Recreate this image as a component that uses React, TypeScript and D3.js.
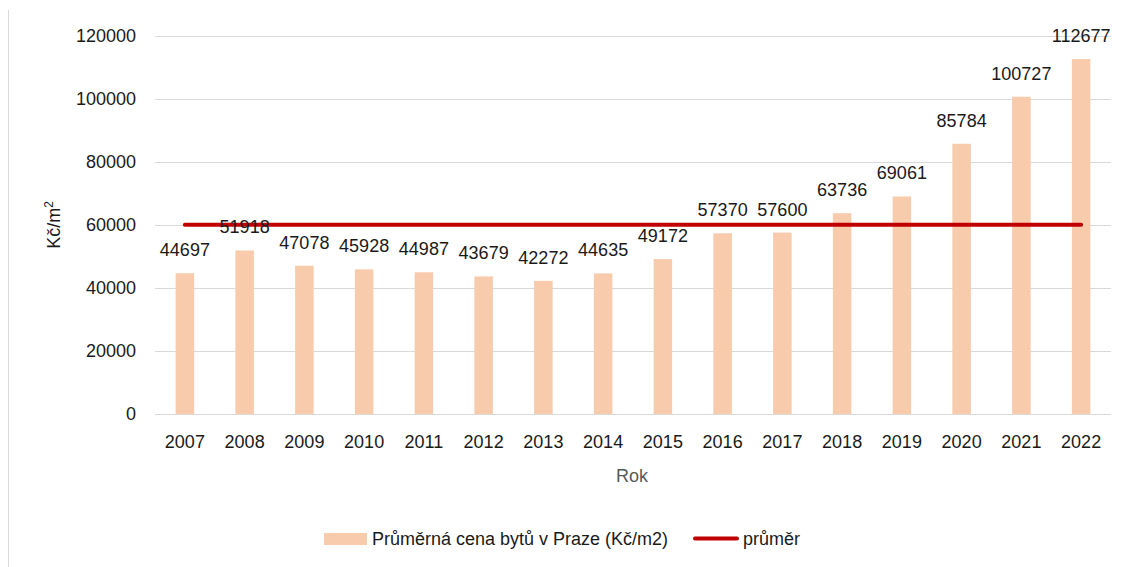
import { useEffect, useRef } from "react";
import * as d3 from "d3";

const years = ["2007", "2008", "2009", "2010", "2011", "2012", "2013", "2014", "2015", "2016", "2017", "2018", "2019", "2020", "2021", "2022"];
const prices = [44697, 51918, 47078, 45928, 44987, 43679, 42272, 44635, 49172, 57370, 57600, 63736, 69061, 85784, 100727, 112677];
const yTicks = [0, 20000, 40000, 60000, 80000, 100000, 120000];

const seriesName = "Průměrná cena bytů v Praze (Kč/m2)";
const avgName = "průměr";

const W = 1123;
const H = 567;
const FONT = "'Liberation Sans', Arial, sans-serif";

const App = () => {
  const ref = useRef<SVGSVGElement>(null);

  useEffect(() => {
    const svg = d3.select(ref.current);
    svg.selectAll("*").remove();

    const left = 155;
    const right = 1111;
    const top = 36;
    const bottom = 414;

    const x = d3.scaleBand().domain(years).range([left, right]).paddingInner(0.69).paddingOuter(0.345);
    const y = d3.scaleLinear().domain([0, 120000]).range([bottom, top]);

    // chart frame edge
    svg.append("line")
      .attr("x1", 8.5).attr("x2", 8.5).attr("y1", 10).attr("y2", H)
      .attr("stroke", "#d9d9d9").attr("stroke-width", 1);

    // gridlines
    svg.append("g")
      .selectAll("line")
      .data(yTicks)
      .join("line")
      .attr("x1", left).attr("x2", right)
      .attr("y1", (d) => Math.round(y(d)) + 0.5)
      .attr("y2", (d) => Math.round(y(d)) + 0.5)
      .attr("stroke", "#d9d9d9").attr("stroke-width", 1);

    // y tick labels
    svg.append("g")
      .selectAll("text")
      .data(yTicks)
      .join("text")
      .attr("x", 136)
      .attr("y", (d) => y(d))
      .attr("dy", "0.35em")
      .attr("text-anchor", "end")
      .attr("font-family", FONT).attr("font-size", 18).attr("fill", "#1a1a1a")
      .text((d) => String(d));

    // bars
    svg.append("g")
      .selectAll("rect")
      .data(prices)
      .join("rect")
      .attr("x", (_, i) => x(years[i])!)
      .attr("y", (d) => y(d))
      .attr("width", x.bandwidth())
      .attr("height", (d) => bottom - y(d))
      .attr("fill", "#f8cbad");

    // average line
    const avg = d3.mean(prices)!;
    const cx = (yr: string) => x(yr)! + x.bandwidth() / 2;
    svg.append("line")
      .attr("x1", cx(years[0])).attr("x2", cx(years[years.length - 1]))
      .attr("y1", y(avg)).attr("y2", y(avg))
      .attr("stroke", "#c00000").attr("stroke-width", 4).attr("stroke-linecap", "round");

    // value labels
    svg.append("g")
      .selectAll("text")
      .data(prices)
      .join("text")
      .attr("x", (_, i) => cx(years[i]))
      .attr("y", (d) => y(d) - 17)
      .attr("text-anchor", "middle")
      .attr("font-family", FONT).attr("font-size", 18).attr("fill", "#1a1a1a")
      .text((d) => String(d));

    // x tick labels
    svg.append("g")
      .selectAll("text")
      .data(years)
      .join("text")
      .attr("x", (d) => cx(d))
      .attr("y", 448)
      .attr("text-anchor", "middle")
      .attr("font-family", FONT).attr("font-size", 18).attr("fill", "#1a1a1a")
      .text((d) => d);

    // axis titles
    svg.append("text")
      .attr("x", 632).attr("y", 482)
      .attr("text-anchor", "middle")
      .attr("font-family", FONT).attr("font-size", 18).attr("fill", "#595959")
      .text("Rok");

    const yt = svg.append("text")
      .attr("transform", "translate(60,225) rotate(-90)")
      .attr("text-anchor", "middle")
      .attr("font-family", FONT).attr("font-size", 18).attr("fill", "#1a1a1a");
    yt.append("tspan").text("Kč/m");
    yt.append("tspan").attr("font-size", 12).attr("dy", -7).text("2");

    // legend
    svg.append("rect")
      .attr("x", 324).attr("y", 533).attr("width", 43).attr("height", 12)
      .attr("fill", "#f8cbad");
    svg.append("text")
      .attr("x", 372).attr("y", 545)
      .attr("font-family", FONT).attr("font-size", 18).attr("fill", "#1a1a1a")
      .text(seriesName);
    svg.append("line")
      .attr("x1", 695).attr("x2", 737).attr("y1", 538.5).attr("y2", 538.5)
      .attr("stroke", "#c00000").attr("stroke-width", 4).attr("stroke-linecap", "round");
    svg.append("text")
      .attr("x", 743).attr("y", 545)
      .attr("font-family", FONT).attr("font-size", 18).attr("fill", "#1a1a1a")
      .text(avgName);
  }, []);

  return (
    <svg
      ref={ref}
      width={W}
      height={H}
      style={{ position: "absolute", left: 0, top: 0, background: "#fff" }}
    />
  );
};

export default App;
